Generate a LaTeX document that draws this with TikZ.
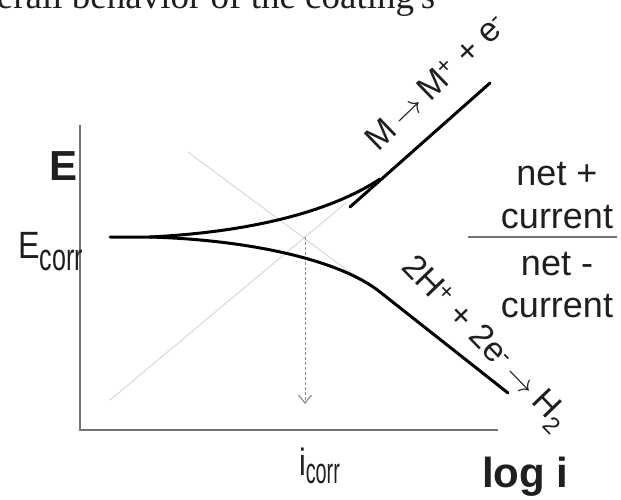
\documentclass[tikz,border=0pt]{standalone}
\usepackage{fontspec}
\setmainfont{Liberation Sans}
\newfontfamily\serifface{Liberation Serif}
\usepackage{graphicx}
\usetikzlibrary{arrows.meta}
\newcommand\setfs[1]{\fontsize{#1}{#1}\selectfont}
\newcommand\rarr{\hspace{0.2em}\scalebox{1.25}{$\rightarrow$}\hspace{0.2em}}
\begin{document}
\begin{tikzpicture}[x=1pt,y=-1pt,
  curve/.style={line width=3pt, line cap=round, draw=black},
  axis/.style={line width=2pt, draw=black!55},
  guide/.style={line width=0.8pt, draw=black!18},
  lbl/.style={inner sep=0pt, outer sep=0pt, text=black!88},
]
\useasboundingbox (0,0) rectangle (621,500);
% title fragment
\node[lbl, anchor=base west] (title) at (-3,9) {\serifface\setfs{37}erall behavior of the coating's};
% axes
\coordinate (ytop) at (80,125);
\coordinate (orig) at (80,430);
\coordinate (xend) at (498,430);
\draw[axis] (ytop) -- (orig) -- (xend);
% guide lines
\coordinate (g1a) at (188,152); \coordinate (g1b) at (355,276);
\coordinate (g2a) at (110,400); \coordinate (g2b) at (347,202);
\draw[guide] (g1a) -- (g1b);
\draw[guide] (g2a) -- (g2b);
\coordinate (cross) at (305,237); \coordinate (crossb) at (305,404);
\draw[guide, draw=black!45, dash pattern=on 3pt off 2pt, -{Straight Barb[length=8pt,width=13pt,line width=1.2pt]}] (cross) -- (crossb);
% curves
\coordinate (c0) at (110,237);
\coordinate (split) at (150,237);
\coordinate (uend) at (380,179);
\coordinate (ls0) at (350,207); \coordinate (ls1) at (490,83);
\coordinate (lend) at (380,292); \coordinate (cend) at (508,393);
\draw[curve] (c0) -- (split) .. controls (250,232) and (330,212) .. (uend);
\draw[curve] (split) .. controls (250,240) and (340,260) .. (lend) -- (cend);
\draw[curve] (ls0) -- (ls1);
% axis labels
\node[lbl, anchor=base west] (E) at (49,180) {\setfs{42}\bfseries E};
\node[lbl, anchor=base west] (Ecorr) at (18,258) {\setfs{38}\scalebox{0.85}[1]{E}\raisebox{-12pt}{\scalebox{0.66}[1]{corr}}};
\node[lbl, anchor=base west] (icorr) at (299,475) {\setfs{38}\scalebox{0.8}[1]{i}\raisebox{-8pt}{\scalebox{0.55}[1]{\setfs{36}corr}}};
\node[lbl, anchor=base west] (logi) at (482,487) {\setfs{42}\bfseries log i};
% reaction labels
\node[lbl, anchor=base west, rotate=44] (anod) at (378,153) {\setfs{34}M\rarr M\textsuperscript{+} + e\textsuperscript{-}};
\node[lbl, anchor=base west, rotate=-46] (cath) at (400,268) {\setfs{34}2H\textsuperscript{+} + 2e\textsuperscript{-}\rarr H\textsubscript{2}};
% net current legend
\node[lbl, anchor=base] (np) at (557,185) {\setfs{36}net +};
\node[lbl, anchor=base] (cp) at (557,228) {\setfs{36}current};
\node[lbl, anchor=base] (nm) at (557,275) {\setfs{36}net -};
\node[lbl, anchor=base] (cm) at (557,317) {\setfs{36}current};
\coordinate (d0) at (468,237); \coordinate (d1) at (617,237);
\draw[axis, line width=1.5pt] (d0) -- (d1);
\end{tikzpicture}
\end{document}
